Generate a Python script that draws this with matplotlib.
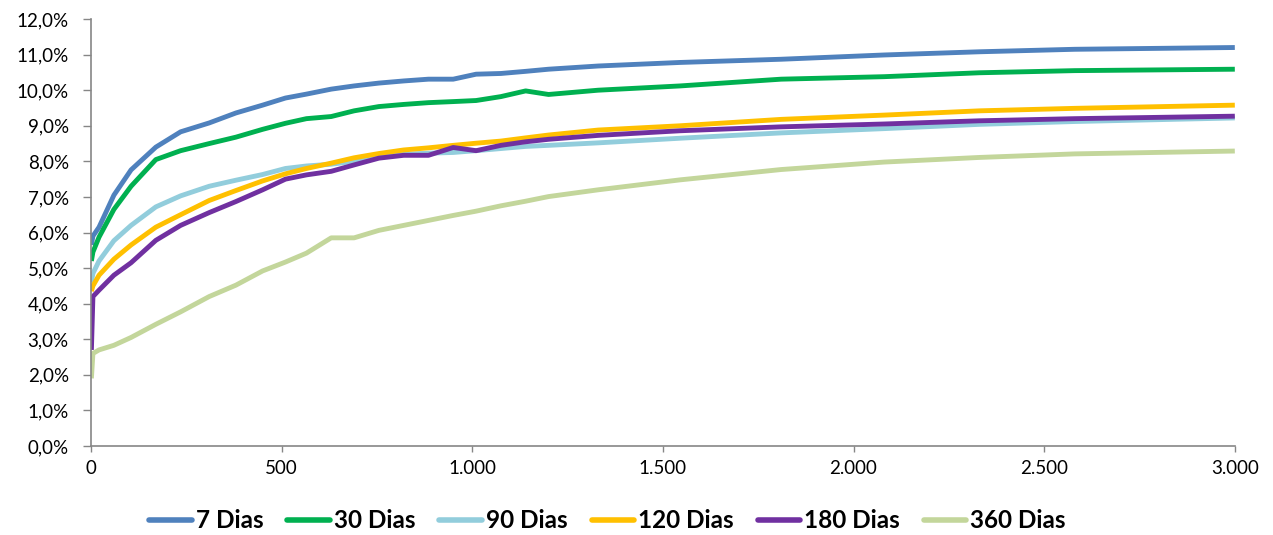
import matplotlib
matplotlib.use("Agg")
import matplotlib.pyplot as plt
from matplotlib.ticker import FuncFormatter, MultipleLocator

plt.rcParams['font.family'] = ['Lato', 'DejaVu Sans']

# prazo (dias uteis) e taxas em %
dias = [1, 5, 21, 60, 105, 170, 235, 310, 380, 450, 510, 565, 630, 690, 755, 820,
        885, 950, 1010, 1075, 1140, 1200, 1330, 1545, 1810, 2080, 2330, 2580, 3000]

taxa_7 = [5.65, 5.9, 6.15, 7.05, 7.76, 8.40, 8.83, 9.08, 9.36, 9.58, 9.78, 9.89, 10.03, 10.12, 10.2, 10.26,
          10.31, 10.31, 10.45, 10.47, 10.53, 10.59, 10.68, 10.78, 10.87, 10.99, 11.08, 11.15, 11.2]
taxa_30 = [5.2, 5.45, 5.87, 6.65, 7.3, 8.05, 8.3, 8.5, 8.68, 8.9, 9.07, 9.2, 9.26, 9.42, 9.54, 9.6,
           9.65, 9.68, 9.71, 9.82, 9.98, 9.88, 10.0, 10.12, 10.31, 10.38, 10.49, 10.55, 10.59]
taxa_90 = [4.6, 4.85, 5.2, 5.77, 6.2, 6.72, 7.03, 7.3, 7.47, 7.63, 7.8, 7.87, 7.92, 8.0, 8.15, 8.2,
           8.23, 8.25, 8.3, 8.36, 8.42, 8.45, 8.52, 8.65, 8.8, 8.92, 9.04, 9.12, 9.22]
taxa_120 = [4.35, 4.5, 4.8, 5.25, 5.65, 6.15, 6.5, 6.9, 7.18, 7.45, 7.65, 7.8, 7.95, 8.1, 8.22, 8.32,
            8.38, 8.45, 8.51, 8.57, 8.66, 8.74, 8.88, 9.0, 9.18, 9.3, 9.42, 9.49, 9.58]
taxa_180 = [2.7, 4.2, 4.38, 4.8, 5.15, 5.78, 6.2, 6.56, 6.87, 7.2, 7.5, 7.62, 7.72, 7.9, 8.09, 8.17,
            8.17, 8.39, 8.3, 8.45, 8.55, 8.62, 8.73, 8.86, 8.97, 9.05, 9.14, 9.2, 9.27]
taxa_360 = [1.9, 2.6, 2.7, 2.83, 3.05, 3.42, 3.77, 4.2, 4.52, 4.92, 5.17, 5.42, 5.85, 5.85, 6.06, 6.2,
            6.34, 6.48, 6.6, 6.75, 6.88, 7.01, 7.2, 7.48, 7.77, 7.98, 8.11, 8.21, 8.29]

series = [
    ("7 Dias", taxa_7, "#4F81BD"),
    ("30 Dias", taxa_30, "#00B050"),
    ("90 Dias", taxa_90, "#92CDDC"),
    ("120 Dias", taxa_120, "#FFC000"),
    ("180 Dias", taxa_180, "#7030A0"),
    ("360 Dias", taxa_360, "#C3D69B"),
]

fig = plt.figure(figsize=(12.73, 5.35), dpi=100, facecolor='white')
ax = fig.add_axes([0.0715, 0.1664, 0.8985, 0.798])

for nome, valores, cor in series:
    ax.plot(dias, valores, color=cor, linewidth=3.5, label=nome, solid_capstyle='butt')

ax.set_xlim(0, 3000)
ax.set_ylim(0, 12)
ax.xaxis.set_major_locator(MultipleLocator(500))
ax.yaxis.set_major_locator(MultipleLocator(1))
ax.xaxis.set_major_formatter(FuncFormatter(lambda v, p: f"{int(v):,}".replace(",", ".")))
ax.yaxis.set_major_formatter(FuncFormatter(lambda v, p: f"{v:.1f}%".replace(".", ",")))

for lado in ['top', 'right']:
    ax.spines[lado].set_visible(False)
for lado in ['left', 'bottom']:
    ax.spines[lado].set_color('#868686')
    ax.spines[lado].set_linewidth(1.2)

ax.tick_params(axis='y', direction='out', length=6, width=1, color='#868686', pad=10, labelsize=13.5)
ax.tick_params(axis='x', direction='out', length=4, width=1, color='#868686', pad=6, labelsize=13.5)

leg = fig.legend(loc='center', bbox_to_anchor=(0.4772, 0.027), ncol=6, frameon=False,
                 prop={'weight': 'bold', 'size': 17.5}, handlelength=1.75, handletextpad=0.15,
                 columnspacing=1.0)
for h in leg.get_lines():
    h.set_solid_capstyle('round')
    h.set_linewidth(4)

fig.savefig("out.png", dpi=100, facecolor='white')
